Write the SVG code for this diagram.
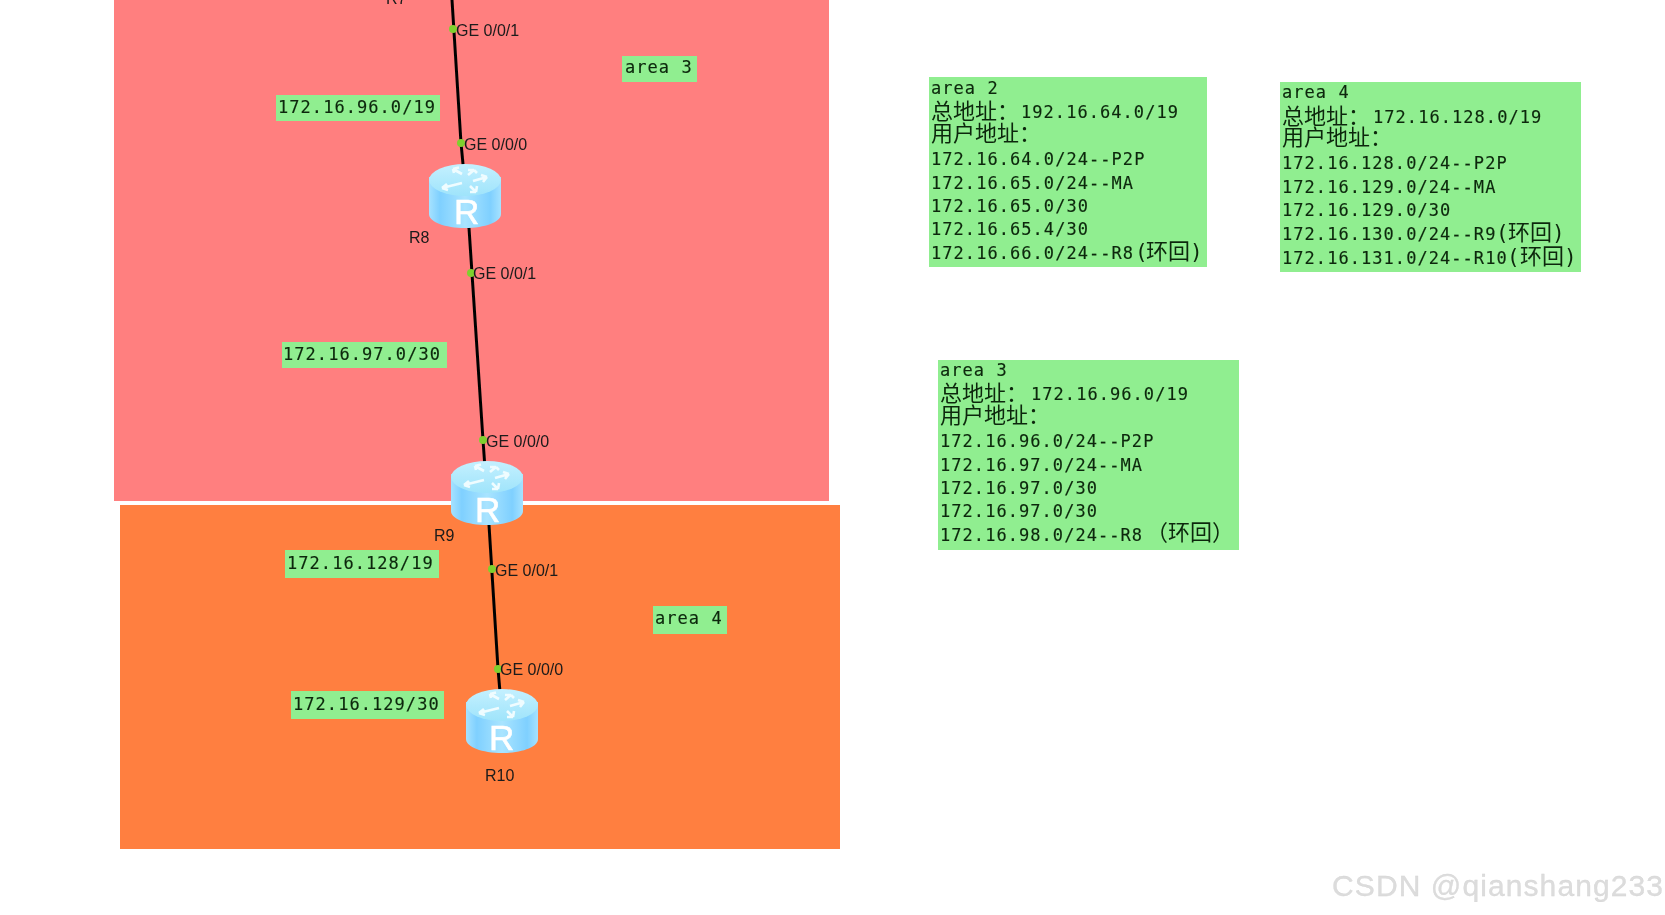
<svg xmlns="http://www.w3.org/2000/svg" width="1665" height="915" viewBox="0 0 1665 915">
<style>
.m{font-family:"DejaVu Sans Mono","Liberation Mono",monospace;font-size:17px;letter-spacing:1.05px;fill:#0c280c;stroke:#0c280c;stroke-width:.15}
.c{font-family:"Noto Sans CJK SC","Noto Sans",sans-serif;font-size:22px;fill:#0c280c}
.p{font-family:"DejaVu Sans Mono","Liberation Mono",monospace;font-size:21px;fill:#0c280c}
.s{font-family:"Liberation Sans",Arial,sans-serif;font-size:16px;fill:#1a1a1a}
.g{fill:#90ee90}
.rl{font-family:"Liberation Sans",Arial,sans-serif;font-size:35px;fill:#fff;stroke:#fff;stroke-width:.6}
.d{fill:#7fd02f}
.cn{fill:none;stroke:#050505;stroke-width:3}
</style>
<defs>
<filter id="soft" x="0" y="0" width="100%" height="100%"><feGaussianBlur stdDeviation=".4"/></filter>
<linearGradient id="body" x1="0" x2="1" y1="0" y2="0">
<stop offset="0" stop-color="#a6e2ff"/><stop offset=".15" stop-color="#7fd0ff"/><stop offset=".5" stop-color="#a9e4ff"/><stop offset=".85" stop-color="#7fd0ff"/><stop offset="1" stop-color="#a6e2ff"/>
</linearGradient>
<linearGradient id="top" x1="0" x2="0" y1="0" y2="1"><stop offset="0" stop-color="#c4f0ff"/><stop offset="1" stop-color="#9fe4fb"/></linearGradient>
<g id="router">
<path d="M-36 -19V18C-36 26-20 32 0 32S36 26 36 18V-19Z" fill="url(#body)"/>
<ellipse cx="0" cy="-16" rx="36" ry="16" fill="url(#top)"/>
<path d="M-12 -27L-3 -22M-12 -27l6 -1.5M-12 -27l1 4M9 -26L3 -21M9 -26l-6 0M9 -26l3 3M22 -19L8 -15M22 -19l-6 -2M22 -19l-4 5M-3 -13L-23 -8M-23 -8l5 -4M-23 -8l6 2M5 -10L11 -4M11 -4l-6 0M11 -4l1 -6" fill="none" stroke="#effcff" stroke-width="2.6"/>
</g>
</defs>
<rect width="1665" height="915" fill="#fff"/>
<g filter="url(#soft)">
<rect x="114" y="0" width="715" height="501" fill="#ff7f7f"/>
<rect x="120" y="505" width="720" height="344" fill="#ff7f3f"/>
<g id="connectors">
<path class="cn" d="M452 0L461 143L469 228"/>
<path class="cn" d="M469 228L483 440L489 525"/>
<path class="cn" d="M489 525L498 669L500 692"/>
</g>
<g id="port-dots">
<circle class="d" cx="453" cy="29" r="4"/>
<circle class="d" cx="461" cy="143" r="4"/>
<circle class="d" cx="471" cy="273" r="4"/>
<circle class="d" cx="483" cy="440" r="4"/>
<circle class="d" cx="492" cy="569" r="4"/>
<circle class="d" cx="498" cy="669" r="4"/>
</g>
<g id="R7"><text class="s" x="386" y="4">R7</text></g>
<g id="R8"><use href="#router" x="465" y="196"/><text class="rl" x="454" y="224" textLength="28">R</text><text class="s" x="409" y="243">R8</text></g>
<g id="R9"><use href="#router" x="487" y="493"/><text class="rl" x="475" y="522" textLength="28">R</text><text class="s" x="434" y="541">R9</text></g>
<g id="R10"><use href="#router" x="502" y="721"/><text class="rl" x="489" y="750" textLength="28">R</text><text class="s" x="485" y="781">R10</text></g>
<g id="port-labels">
<text class="s" x="456" y="36">GE 0/0/1</text>
<text class="s" x="464" y="150">GE 0/0/0</text>
<text class="s" x="473" y="279">GE 0/0/1</text>
<text class="s" x="486" y="447">GE 0/0/0</text>
<text class="s" x="495" y="576">GE 0/0/1</text>
<text class="s" x="500" y="675">GE 0/0/0</text>
</g>
<g id="label-area3"><rect class="g" x="622" y="56" width="75" height="26"/><text class="m" x="625" y="73">area 3</text></g>
<g id="label-96"><rect class="g" x="276" y="95" width="164" height="26"/><text class="m" x="278" y="113">172.16.96.0/19</text></g>
<g id="label-97"><rect class="g" x="282" y="342" width="165" height="26"/><text class="m" x="283" y="360">172.16.97.0/30</text></g>
<g id="label-128"><rect class="g" x="285" y="550" width="154" height="28"/><text class="m" x="287" y="569">172.16.128/19</text></g>
<g id="label-area4"><rect class="g" x="653" y="606" width="74" height="28"/><text class="m" x="655" y="624">area 4</text></g>
<g id="label-129"><rect class="g" x="291" y="691" width="153" height="28"/><text class="m" x="293" y="710">172.16.129/30</text></g>
<g id="panel-area2"><rect class="g" x="929" y="77" width="278" height="190"/>
<text class="m" x="931" y="94">area 2</text>
<text class="c" x="931" y="119">总地址：</text><text class="m" x="1021" y="118">192.16.64.0/19</text>
<text class="c" x="931" y="141">用户地址：</text>
<text class="m" x="931" y="165">172.16.64.0/24--P2P</text>
<text class="m" x="931" y="189">172.16.65.0/24--MA</text>
<text class="m" x="931" y="212">172.16.65.0/30</text>
<text class="m" x="931" y="235">172.16.65.4/30</text>
<text class="m" x="931" y="259">172.16.66.0/24--R8</text><text class="p" x="1135" y="259">(</text><text class="c" x="1146" y="259">环回</text><text class="p" x="1190" y="259">)</text>
</g>
<g id="panel-area4"><rect class="g" x="1280" y="82" width="301" height="190"/>
<text class="m" x="1282" y="98">area 4</text>
<text class="c" x="1282" y="124">总地址：</text><text class="m" x="1373" y="123">172.16.128.0/19</text>
<text class="c" x="1282" y="145">用户地址：</text>
<text class="m" x="1282" y="169">172.16.128.0/24--P2P</text>
<text class="m" x="1282" y="193">172.16.129.0/24--MA</text>
<text class="m" x="1282" y="216">172.16.129.0/30</text>
<text class="m" x="1282" y="240">172.16.130.0/24--R9</text><text class="p" x="1496" y="240">(</text><text class="c" x="1508" y="240">环回</text><text class="p" x="1552" y="240">)</text>
<text class="m" x="1282" y="264">172.16.131.0/24--R10</text><text class="p" x="1507" y="264">(</text><text class="c" x="1520" y="264">环回</text><text class="p" x="1564" y="264">)</text>
</g>
<g id="panel-area3"><rect class="g" x="938" y="360" width="301" height="190"/>
<text class="m" x="940" y="376">area 3</text>
<text class="c" x="940" y="401">总地址：</text><text class="m" x="1031" y="400">172.16.96.0/19</text>
<text class="c" x="940" y="423">用户地址：</text>
<text class="m" x="940" y="447">172.16.96.0/24--P2P</text>
<text class="m" x="940" y="471">172.16.97.0/24--MA</text>
<text class="m" x="940" y="494">172.16.97.0/30</text>
<text class="m" x="940" y="517">172.16.97.0/30</text>
<text class="m" x="940" y="541">172.16.98.0/24--R8</text><text class="c" x="1146" y="540">（环回）</text>
</g>
<text x="1332" y="896" font-family="Liberation Sans,Arial,sans-serif" font-size="30" fill="#dcdcdc" stroke="#d4d4d4" stroke-width=".3" textLength="331">CSDN @qianshang233</text>
</g>
</svg>
